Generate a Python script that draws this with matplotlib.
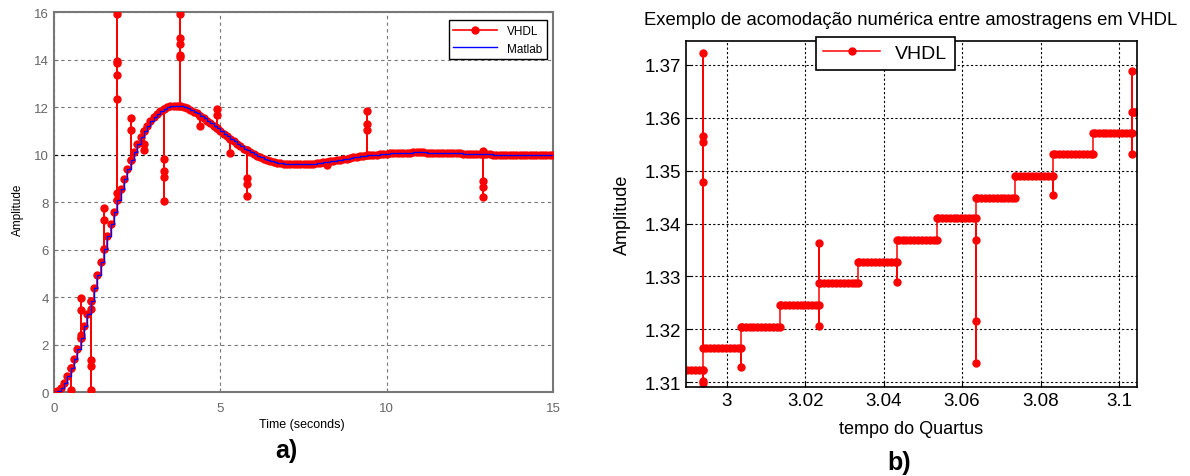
# resposta ao degrau VHDL x Matlab (a) e detalhe da acomodacao numerica (b)

import numpy as np
import matplotlib
matplotlib.use("Agg")
import matplotlib.pyplot as plt

plt.rcParams["font.family"] = ["Liberation Sans", "DejaVu Sans"]

# ---- painel a) ----
ts_a = 0.1  # periodo de amostragem do Matlab (s)
matlab_y = [
    0.00, 0.05, 0.17, 0.38, 0.66, 0.99, 1.38, 1.81, 2.28, 2.78, 3.30, 3.84, 4.38, 4.94, 5.49,
    6.03, 6.57, 7.09, 7.59, 8.08, 8.54, 8.97, 9.38, 9.76, 10.11, 10.43, 10.72, 10.98, 11.21,
    11.41, 11.58, 11.72, 11.84, 11.93, 11.99, 12.03, 12.05, 12.05, 12.03, 12.00, 11.95, 11.89,
    11.81, 11.73, 11.63, 11.53, 11.43, 11.32, 11.21, 11.10, 10.98, 10.87, 10.76, 10.65, 10.55,
    10.44, 10.35, 10.25, 10.17, 10.09, 10.01, 9.94, 9.88, 9.82, 9.77, 9.73, 9.69, 9.66, 9.63,
    9.61, 9.60, 9.59, 9.58, 9.58, 9.58, 9.59, 9.59, 9.61, 9.62, 9.64, 9.65, 9.67, 9.70, 9.72,
    9.74, 9.76, 9.79, 9.81, 9.83, 9.86, 9.88, 9.90, 9.92, 9.94, 9.96, 9.97, 9.99, 10.00, 10.02,
    10.03, 10.04, 10.05, 10.06, 10.07, 10.07, 10.08, 10.08, 10.08, 10.09, 10.09, 10.09, 10.09,
    10.08, 10.08, 10.08, 10.08, 10.07, 10.07, 10.06, 10.06, 10.06, 10.05, 10.05, 10.04, 10.04,
    10.03, 10.03, 10.02, 10.02, 10.01, 10.01, 10.01, 10.00, 10.00, 10.00, 9.99, 9.99, 9.99,
    9.99, 9.99, 9.99, 9.98, 9.98, 9.98, 9.98, 9.98, 9.98, 9.98, 9.98, 9.98, 9.98,
]
# glitches do VHDL: instante (s) -> valores momentaneos
glitch_t = [0.5, 0.8, 1.1, 1.5, 1.9, 2.3, 2.7, 3.3, 3.8, 4.4, 4.9, 5.3, 5.8, 8.2, 9.4, 12.9]
glitch_v = [
    [0.1],
    [2.4, 3.45, 3.95],
    [3.5, 1.35, 1.1, 0.1],
    [7.25, 7.75],
    [8.4, 12.35, 13.35, 13.85, 13.95, 15.9],
    [11.05, 11.55],
    [10.45, 10.2],
    [9.8, 9.3, 9.05, 8.05],
    [14.1, 14.2, 14.65, 14.9, 15.9],
    [11.2],
    [11.1, 11.65, 11.9],
    [10.05],
    [9.0, 8.75, 8.25],
    [9.55],
    [11.05, 11.3, 11.85],
    [10.15, 8.9, 8.65, 8.2],
]
ref_a = 10.0

# ---- painel b) ----
ts_b = 0.001
t0_b = 2.9898
tfim_b = 3.1046
b_trocas = [2.9938, 3.0037, 3.0135, 3.0235, 3.0334, 3.0434, 3.0537,
            3.0636, 3.0734, 3.0832, 3.0933, 3.1034]
b_niveis = [1.3123, 1.3164, 1.3205, 1.3246, 1.3287, 1.3327, 1.3369,
            1.3410, 1.3449, 1.3490, 1.3531, 1.3572, 1.3610]
b_glitches = [
    [1.3102, 1.3098, 1.3722, 1.3565, 1.3554, 1.3478],
    [1.3128],
    [],
    [1.3207, 1.3364],
    [],
    [1.3289],
    [],
    [1.3369, 1.3216, 1.3137],
    [],
    [1.3453],
    [],
    [1.3688, 1.3531],
]


def serie_vhdl_a():
    t_m = np.arange(len(matlab_y)) * ts_a
    tt, yy = [], []
    for ti, yi in zip(t_m, matlab_y):
        tt.append(ti)
        yy.append(yi)
        for tg, vals in zip(glitch_t, glitch_v):
            if abs(tg - ti) < 1e-6:
                tt += [ti] * len(vals) + [ti]
                yy += vals + [yi]
    return t_m, np.array(tt), np.array(yy)


def serie_vhdl_b():
    amostras = np.arange(t0_b, tfim_b, ts_b)
    tt, yy = [], []
    k = 0
    for ta in amostras:
        while k < len(b_trocas) and ta >= b_trocas[k]:
            tt += [b_trocas[k]] * (len(b_glitches[k]) + 2)
            yy += [b_niveis[k]] + b_glitches[k] + [b_niveis[k + 1]]
            k += 1
        tt.append(ta)
        yy.append(b_niveis[k])
    while k < len(b_trocas):
        tt += [b_trocas[k]] * (len(b_glitches[k]) + 2)
        yy += [b_niveis[k]] + b_glitches[k] + [b_niveis[k + 1]]
        k += 1
    tt.append(tfim_b - 0.0004)
    yy.append(b_niveis[-1])
    return np.array(tt), np.array(yy)


fig = plt.figure(figsize=(11.9, 4.77), dpi=100)

# a)
ax = fig.add_axes([0.0454, 0.1761, 0.4193, 0.7966])
t_m, tv, yv = serie_vhdl_a()
ax.plot(tv, yv, color="red", lw=1.2, marker="o", ms=5, drawstyle="steps-post",
        label="VHDL", zorder=3)
ax.step(t_m, matlab_y, where="post", color="blue", lw=1.0, label="Matlab", zorder=4)
ax.axhline(ref_a, color="black", lw=0.8, ls=(0, (3, 3)), zorder=2)
ax.set_xlim(0, 15)
ax.set_ylim(0, 16)
ax.set_xticks([0, 5, 10, 15])
ax.set_yticks(range(0, 17, 2))
ax.grid(True, color="#777777", lw=0.8, ls=(0, (3, 3)))
ax.tick_params(direction="in", length=3, labelsize=9.5, labelcolor="#666666",
               color="#777777")
ax.tick_params(axis="x", pad=7)
for sp in ax.spines.values():
    sp.set_color("#777777")
    sp.set_linewidth(1.5)
leg = ax.legend(loc="upper right", bbox_to_anchor=(0.987, 0.979), borderaxespad=0,
                fontsize=8.5, handlelength=3.7, fancybox=False, framealpha=1,
                edgecolor="black")
leg.get_frame().set_linewidth(1.0)
fig.text(0.2537, 0.108, "Time (seconds)", ha="center", va="center", fontsize=9)
fig.text(0.0155, 0.56, "Amplitude", ha="center", va="center", rotation=90, fontsize=8.5)
fig.text(0.241, 0.0545, "a)", ha="center", va="center", fontsize=18, fontweight="bold")

# b)
bx = fig.add_axes([0.5765, 0.1866, 0.379, 0.7254])
tb, yb = serie_vhdl_b()
bx.plot(tb, yb, color="red", lw=1.1, marker="o", ms=5, label="VHDL")
bx.set_xlim(2.9896, tfim_b)
bx.set_ylim(1.3091, 1.3745)
bx.set_xticks([3.0, 3.02, 3.04, 3.06, 3.08, 3.1])
bx.set_xticklabels(["3", "3.02", "3.04", "3.06", "3.08", "3.1"])
bx.set_yticks([1.31, 1.32, 1.33, 1.34, 1.35, 1.36, 1.37])
bx.grid(True, color="black", lw=0.8, ls=(0, (2, 2)))
bx.tick_params(direction="in", length=4, labelsize=13.5)
for sp in bx.spines.values():
    sp.set_linewidth(1.2)
leg = bx.legend(loc="upper center", bbox_to_anchor=(0.442, 1.012), borderaxespad=0,
                fontsize=14, handlelength=2.9, fancybox=False, framealpha=1,
                edgecolor="black")
leg.get_frame().set_linewidth(1.2)
fig.text(0.765, 0.958, "Exemplo de acomodação numérica entre amostragens em VHDL",
         ha="center", va="center", fontsize=13.3)
fig.text(0.7655, 0.1006, "tempo do Quartus", ha="center", va="center", fontsize=13)
fig.text(0.5227, 0.549, "Amplitude", ha="center", va="center", rotation=90, fontsize=13)
fig.text(0.756, 0.03, "b)", ha="center", va="center", fontsize=18, fontweight="bold")

fig.savefig("out.png", dpi=100)
plt.close(fig)
